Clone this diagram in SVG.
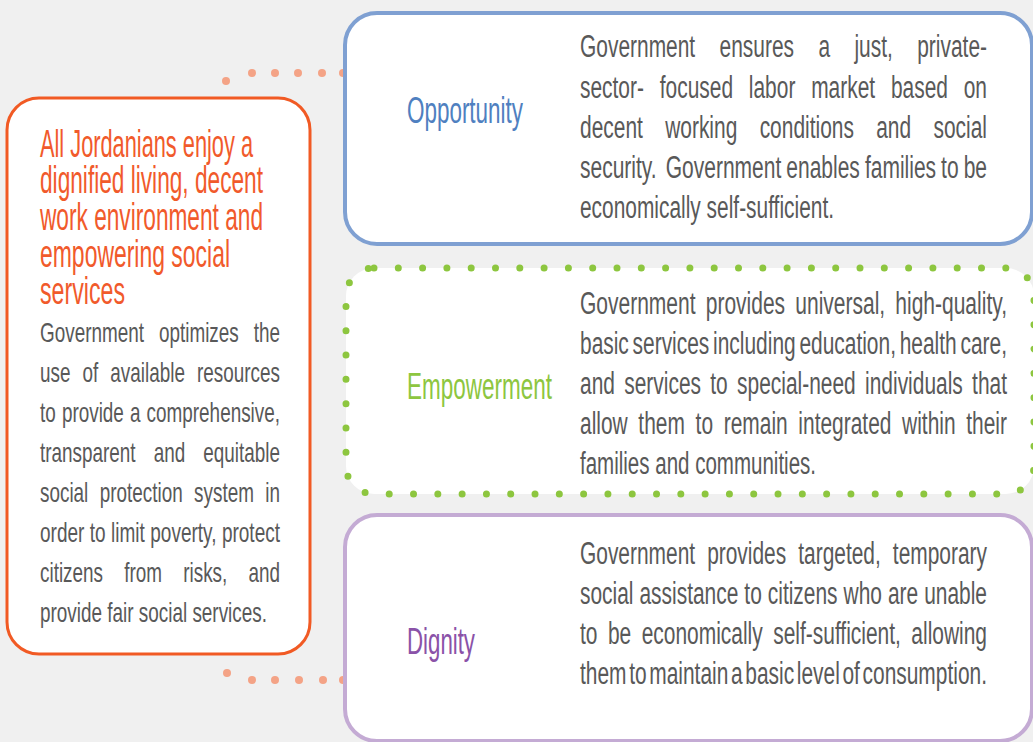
<svg xmlns="http://www.w3.org/2000/svg" width="1033" height="742" viewBox="0 0 1033 742">
<style>
.bg{fill:#f0f0f0}
.dot{fill:#f4a386}
.t{font-family:"Liberation Sans",Arial,sans-serif}
.title{fill:#f15a2b;font-size:39px}
.body{fill:#595959;font-size:28px}
.rbody{fill:#595959;font-size:31px}
.lab{font-size:37px}
</style>
<rect class="bg" x="0" y="0" width="1033" height="742"/>
<g id="connectors">
<circle class="dot" cx="226" cy="81" r="4"/>
<circle class="dot" cx="252" cy="73" r="4"/>
<circle class="dot" cx="275" cy="73" r="4"/>
<circle class="dot" cx="298" cy="73" r="4"/>
<circle class="dot" cx="322" cy="73" r="4"/>
<circle class="dot" cx="343" cy="73" r="4"/>
<circle class="dot" cx="227" cy="673" r="4"/>
<circle class="dot" cx="252" cy="680" r="4"/>
<circle class="dot" cx="275" cy="680" r="4"/>
<circle class="dot" cx="299" cy="680" r="4"/>
<circle class="dot" cx="323" cy="680" r="4"/>
<circle class="dot" cx="343" cy="680" r="4"/>
</g>
<g id="goal">
<rect x="7" y="98" width="303" height="556" rx="32" fill="#fff" stroke="#f15a24" stroke-width="3"/>
<g class="t title">
<text x="40" y="157" textLength="213" lengthAdjust="spacingAndGlyphs">All Jordanians enjoy a</text>
<text x="40" y="193" textLength="223" lengthAdjust="spacingAndGlyphs">dignified living, decent</text>
<text x="40" y="230" textLength="223" lengthAdjust="spacingAndGlyphs">work environment and</text>
<text x="40" y="267" textLength="190" lengthAdjust="spacingAndGlyphs">empowering social</text>
<text x="40" y="304" textLength="85" lengthAdjust="spacingAndGlyphs">services</text>
</g>
<g class="t body">
<text x="40" y="342" textLength="240" lengthAdjust="spacingAndGlyphs" style="word-spacing:14.4px">Government optimizes the</text>
<text x="40" y="382" textLength="240" lengthAdjust="spacingAndGlyphs" style="word-spacing:10.1px">use of available resources</text>
<text x="40" y="422" textLength="240" lengthAdjust="spacingAndGlyphs" style="word-spacing:1.3px">to provide a comprehensive,</text>
<text x="40" y="462" textLength="240" lengthAdjust="spacingAndGlyphs" style="word-spacing:19px">transparent and equitable</text>
<text x="40" y="502" textLength="240" lengthAdjust="spacingAndGlyphs" style="word-spacing:9.1px">social protection system in</text>
<text x="40" y="542" textLength="240" lengthAdjust="spacingAndGlyphs" style="word-spacing:0.2px">order to limit poverty, protect</text>
<text x="40" y="582" textLength="240" lengthAdjust="spacingAndGlyphs" style="word-spacing:23.6px">citizens from risks, and</text>
<text x="40" y="622" textLength="227" lengthAdjust="spacingAndGlyphs">provide fair social services.</text>
</g>
</g>
<g id="opportunity">
<rect x="345" y="13" width="687" height="231" rx="32" fill="#fff" stroke="#7fa0d2" stroke-width="4"/>
<text class="t lab" x="407" y="123" fill="#4f80c0" textLength="116" lengthAdjust="spacingAndGlyphs">Opportunity</text>
<g class="t rbody">
<text x="580" y="57" textLength="407" lengthAdjust="spacingAndGlyphs" style="word-spacing:27.5px">Government ensures a just, private-</text>
<text x="580" y="98" textLength="407" lengthAdjust="spacingAndGlyphs" style="word-spacing:14.8px">sector- focused labor market based on</text>
<text x="580" y="138" textLength="407" lengthAdjust="spacingAndGlyphs" style="word-spacing:24.5px">decent working conditions and social</text>
<text x="580" y="178" textLength="407" lengthAdjust="spacingAndGlyphs" style="word-spacing:-1.2px">security. <tspan dx="6">Government enables families to be</tspan></text>
<text x="580" y="218" textLength="254" lengthAdjust="spacingAndGlyphs">economically self-sufficient.</text>
</g>
</g>
<g id="empowerment">
<rect x="346" y="268" width="688" height="226" rx="28" fill="#fff" stroke="#8dc63f" stroke-width="7" stroke-linecap="round" stroke-dasharray="0 24.3"/>
<text class="t lab" x="407" y="399" fill="#8dc63f" textLength="145" lengthAdjust="spacingAndGlyphs">Empowerment</text>
<g class="t rbody">
<text x="580" y="314" textLength="427" lengthAdjust="spacingAndGlyphs" style="word-spacing:6.4px">Government provides universal, high-quality,</text>
<text x="580" y="354" textLength="427" lengthAdjust="spacingAndGlyphs" style="word-spacing:-3px">basic services including education, health care,</text>
<text x="580" y="394" textLength="427" lengthAdjust="spacingAndGlyphs" style="word-spacing:5.2px">and services to special-need individuals that</text>
<text x="580" y="434" textLength="427" lengthAdjust="spacingAndGlyphs" style="word-spacing:7.2px">allow them to remain integrated within their</text>
<text x="580" y="474" textLength="236" lengthAdjust="spacingAndGlyphs">families and communities.</text>
</g>
</g>
<g id="dignity">
<rect x="345" y="515" width="687" height="226" rx="32" fill="#fff" stroke="#c4abd4" stroke-width="4"/>
<text class="t lab" x="407" y="654" fill="#8a52a8" textLength="68" lengthAdjust="spacingAndGlyphs">Dignity</text>
<g class="t rbody">
<text x="580" y="564" textLength="407" lengthAdjust="spacingAndGlyphs" style="word-spacing:9.2px">Government provides targeted, temporary</text>
<text x="580" y="604" textLength="407" lengthAdjust="spacingAndGlyphs" style="word-spacing:0.3px">social assistance to citizens who are unable</text>
<text x="580" y="644" textLength="407" lengthAdjust="spacingAndGlyphs" style="word-spacing:6.9px">to be economically self-sufficient, allowing</text>
<text x="580" y="684" textLength="407" lengthAdjust="spacingAndGlyphs" style="word-spacing:-4.7px">them to maintain a basic level of consumption.</text>
</g>
</g>
</svg>
